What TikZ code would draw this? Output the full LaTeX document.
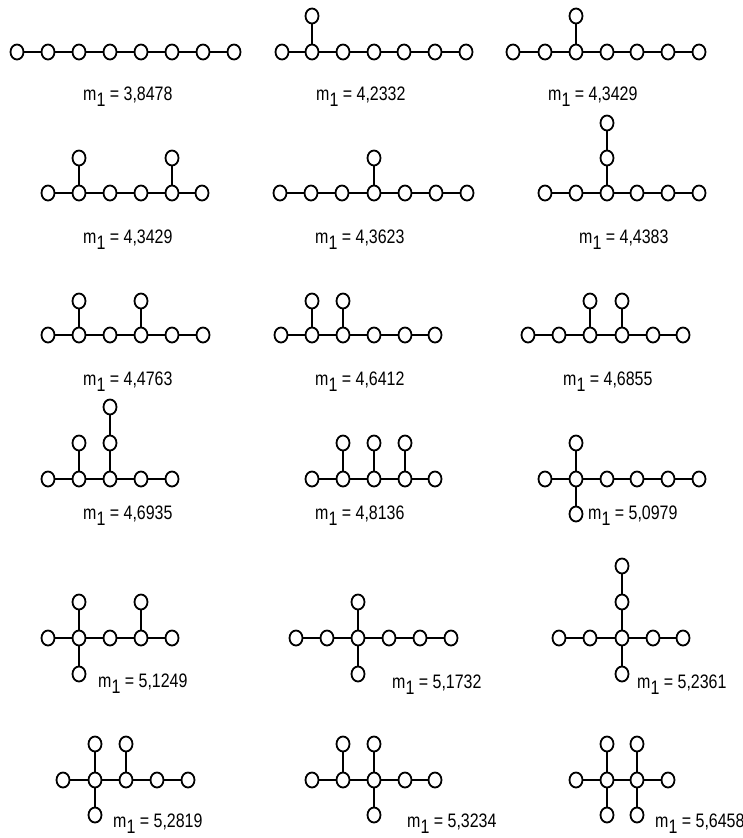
\documentclass[tikz,border=0pt]{standalone}
\usepackage{fontspec}
\setmainfont[FakeStretch=0.82]{Liberation Sans}
\usetikzlibrary{shapes.geometric}
\tikzset{
  v/.style={draw, ellipse, minimum width=13bp, minimum height=15bp, inner sep=0pt, line width=1.8bp},
  edge/.style={line width=1.2bp},
  lbl/.style={anchor=base west, inner sep=0pt, font=\fontsize{19.5bp}{22bp}\selectfont}
}
\newcommand\mychain[3]{%
  \foreach \x [count=\i, remember=\i as \p (initially 0)] in {#3} {%
    \node[v] (#1-\i) at (\x,#2) {};
    \ifnum\i>1 \draw[edge] (#1-\p) -- (#1-\i);\fi
  }}
\newcommand\mypend[4]{% name, parent, x, y
  \node[v] (#1) at (#3,#4) {};
  \draw[edge] (#2) -- (#1);}
\newcommand\mval[1]{m\lower6.5bp\hbox{1} = #1}
\begin{document}
\begin{tikzpicture}[x=1bp,y=-1bp]
\useasboundingbox (0,0) rectangle (743,838);
% Row 1
\mychain{g1}{52}{17,48,79,110,141,172,203,234}
\node[lbl] (l1) at (83,100) {\mval{3,8478}};
\mychain{g2}{52}{282,312,343,374,404,435,466}
\mypend{g2-a}{g2-2}{312}{16}
\node[lbl] (l2) at (316,100) {\mval{4,2332}};
\mychain{g3}{52}{513,545,576,607,637,668,699}
\mypend{g3-a}{g3-3}{576}{16}
\node[lbl] (l3) at (548,100) {\mval{4,3429}};
% Row 2
\mychain{g4}{193}{48,79,110,141,172,202}
\mypend{g4-a}{g4-2}{79}{158}
\mypend{g4-b}{g4-5}{172}{158}
\node[lbl] (l4) at (83,243) {\mval{4,3429}};
\mychain{g5}{193}{280,311,342,374,405,436,467}
\mypend{g5-a}{g5-4}{374}{158}
\node[lbl] (l5) at (315,243) {\mval{4,3623}};
\mychain{g6}{193}{545,576,607,637,668,699}
\mypend{g6-a}{g6-3}{607}{158}
\mypend{g6-b}{g6-a}{607}{123}
\node[lbl] (l6) at (579,243) {\mval{4,4383}};
% Row 3
\mychain{g7}{335}{48,79,110,141,172,203}
\mypend{g7-a}{g7-2}{79}{301}
\mypend{g7-b}{g7-4}{141}{301}
\node[lbl] (l7) at (83,385) {\mval{4,4763}};
\mychain{g8}{335}{281,312,343,374,405,435}
\mypend{g8-a}{g8-2}{312}{301}
\mypend{g8-b}{g8-3}{343}{301}
\node[lbl] (l8) at (315,385) {\mval{4,6412}};
\mychain{g9}{335}{528,559,590,622,653,683}
\mypend{g9-a}{g9-3}{590}{301}
\mypend{g9-b}{g9-4}{622}{301}
\node[lbl] (l9) at (563,385) {\mval{4,6855}};
% Row 4
\mychain{g10}{479}{48,79,110,141,172}
\mypend{g10-a}{g10-2}{79}{443}
\mypend{g10-b}{g10-3}{110}{443}
\mypend{g10-c}{g10-b}{110}{407}
\node[lbl] (l10) at (83,519) {\mval{4,6935}};
\mychain{g11}{479}{312,343,374,405,435}
\mypend{g11-a}{g11-2}{343}{443}
\mypend{g11-b}{g11-3}{374}{443}
\mypend{g11-c}{g11-4}{405}{443}
\node[lbl] (l11) at (315,519) {\mval{4,8136}};
\mychain{g12}{479}{545,576,607,637,668,699}
\mypend{g12-a}{g12-2}{576}{443}
\mypend{g12-b}{g12-2}{576}{514}
\node[lbl] (l12) at (588,519) {\mval{5,0979}};
% Row 5
\mychain{g13}{638}{48,79,110,141,172}
\mypend{g13-a}{g13-2}{79}{602}
\mypend{g13-b}{g13-2}{79}{674}
\mypend{g13-c}{g13-4}{141}{602}
\node[lbl] (l13) at (98,687) {\mval{5,1249}};
\mychain{g14}{638}{296,327,358,389,420,451}
\mypend{g14-a}{g14-3}{358}{602}
\mypend{g14-b}{g14-3}{358}{674}
\node[lbl] (l14) at (392,688) {\mval{5,1732}};
\mychain{g15}{638}{559,590,622,653,683}
\mypend{g15-a}{g15-3}{622}{602}
\mypend{g15-b}{g15-a}{622}{566}
\mypend{g15-c}{g15-3}{622}{674}
\node[lbl] (l15) at (637,688) {\mval{5,2361}};
% Row 6
\mychain{g16}{780}{63,95,126,157,188}
\mypend{g16-a}{g16-2}{95}{744}
\mypend{g16-b}{g16-3}{126}{744}
\mypend{g16-c}{g16-2}{95}{815}
\node[lbl] (l16) at (113,827) {\mval{5,2819}};
\mychain{g17}{780}{312,343,374,405,435}
\mypend{g17-a}{g17-2}{343}{744}
\mypend{g17-b}{g17-3}{374}{744}
\mypend{g17-c}{g17-3}{374}{815}
\node[lbl] (l17) at (407,827) {\mval{5,3234}};
\mychain{g18}{780}{576,607,637,668}
\mypend{g18-a}{g18-2}{607}{744}
\mypend{g18-b}{g18-3}{637}{744}
\mypend{g18-c}{g18-2}{607}{815}
\mypend{g18-d}{g18-3}{637}{815}
\node[lbl] (l18) at (655,827) {\mval{5,6458}};
\end{tikzpicture}
\end{document}
